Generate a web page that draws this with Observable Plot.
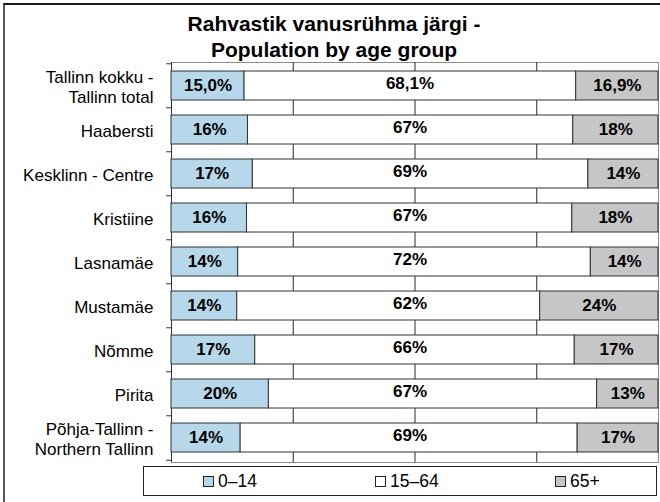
<!DOCTYPE html>
<html><head><meta charset="utf-8">
<script src="https://cdn.jsdelivr.net/npm/d3@7"></script>
<script src="https://cdn.jsdelivr.net/npm/@observablehq/plot@0.6"></script>
<style>
html,body{margin:0;padding:0;background:#fff;overflow:hidden;width:660px;height:502px;font-family:"Liberation Sans",Arial,Helvetica,sans-serif;color:#000;}
#frame{position:absolute;left:3px;top:3px;width:700px;height:560px;border-top:2px solid #1a1a1a;border-left:2px solid #555;box-sizing:border-box;}
#title{position:absolute;left:0;top:11px;width:668px;text-align:center;font-weight:bold;font-size:21px;line-height:26px;}
#chart{position:absolute;left:0;top:60px;}
#legend{position:absolute;left:143px;top:466px;width:514px;height:30px;border:1px solid #222;box-sizing:border-box;font-size:17.5px;background:#fff;}
.item{position:absolute;top:0;height:28px;display:flex;align-items:center;white-space:nowrap;}
.sw{width:9px;height:9px;border:1px solid #222;margin-right:4px;}
</style></head><body>
<div id="frame"></div>
<div id="title"></div>
<div id="chart"></div>
<div id="legend"></div>
<script>
const titleLines = ["Rahvastik vanusrühma järgi -", "Population by age group"];
const categories = ["Tallinn kokku -\nTallinn total","Haabersti","Kesklinn - Centre","Kristiine","Lasnamäe","Mustamäe","Nõmme","Pirita","Põhja-Tallinn -\nNorthern Tallinn"];
const groups = ["0–14","15–64","65+"];
const age0_14  = [15.0, 15.7, 16.7, 15.5, 13.7, 13.5, 17.2, 20.0, 14.2];
const age15_64 = [68.1, 66.8, 68.9, 66.8, 72.4, 62.2, 65.6, 67.4, 69.2];
const age65    = [16.9, 17.5, 14.4, 17.7, 13.9, 24.3, 17.2, 12.6, 16.6];
const labels0_14  = ["15,0%","16%","17%","16%","14%","14%","17%","20%","14%"];
const labels15_64 = ["68,1%","67%","69%","67%","72%","62%","66%","67%","69%"];
const labels65    = ["16,9%","18%","14%","18%","14%","24%","17%","13%","17%"];
const colors = ["#b7d7ea","#ffffff","#c6c6c6"];
const gridTicks = [25, 50, 75];
const xDomain = [0, 100];

document.getElementById("title").innerHTML = titleLines.join("<br>");

const series = [age0_14, age15_64, age65];
const labelSets = [labels0_14, labels15_64, labels65];
const rows = [];
categories.forEach((c, i) => {
  let acc = 0;
  groups.forEach((g, j) => {
    const v = series[j][i];
    rows.push({cat: c, group: g, value: v, x1: acc, x2: acc + v, label: labelSets[j][i]});
    acc += v;
  });
});

const plotH = 404, mT = 2, mB = 2;
const step = (plotH - mT - mB) / categories.length;
const font = "Liberation Sans, Arial, Helvetica, sans-serif";

const chart = Plot.plot({
  width: 660, height: plotH,
  marginTop: mT, marginBottom: mB, marginLeft: 171, marginRight: 2,
  style: {fontFamily: font, background: "transparent", overflow: "visible"},
  x: {domain: xDomain, axis: null},
  y: {domain: categories, axis: null, paddingInner: 0.337, paddingOuter: 0.1685},
  color: {domain: groups, range: colors},
  marks: [
    Plot.frame({stroke: "#8c8c8c"}),
    Plot.ruleX(gridTicks, {stroke: "#2a2a2a", strokeWidth: 1}),
    Plot.ruleX([xDomain[0]], {stroke: "#333"}),
    Plot.ruleY(categories, {y: d => d, x1: -1, x2: 0, dy: -step / 2, stroke: "#333"}),
    Plot.ruleY(categories.slice(-1), {y: d => d, x1: -1, x2: 0, dy: step / 2, stroke: "#333"}),
    Plot.barX(rows, {x1: "x1", x2: "x2", y: "cat", fill: "group", stroke: "#333", strokeWidth: 1}),
    Plot.text(rows.filter(d => d.group !== groups[1]), {
      x: d => (d.x1 + d.x2) / 2, y: "cat", text: "label",
      fontWeight: "bold", fontSize: 17, fill: "#000"
    }),
    Plot.text(rows.filter(d => d.group === groups[1]), {
      y: "cat", text: "label", frameAnchor: "middle", dx: -5, dy: -2,
      fontWeight: "bold", fontSize: 17, fill: "#000"
    }),
    Plot.text(categories, {
      y: d => d, text: d => d, frameAnchor: "left", textAnchor: "end",
      dx: -18, dy: 1, fontSize: 17, lineHeight: 1.18, fill: "#000"
    })
  ]
});
document.getElementById("chart").appendChild(chart);

const legendLefts = [59, 231, 411];
const legend = document.getElementById("legend");
groups.forEach((g, j) => {
  const it = document.createElement("div");
  it.className = "item";
  it.style.left = legendLefts[j] + "px";
  const sw = document.createElement("span");
  sw.className = "sw";
  sw.style.background = colors[j];
  const tx = document.createElement("span");
  tx.textContent = g;
  it.appendChild(sw); it.appendChild(tx);
  legend.appendChild(it);
});
</script>
</body></html>
